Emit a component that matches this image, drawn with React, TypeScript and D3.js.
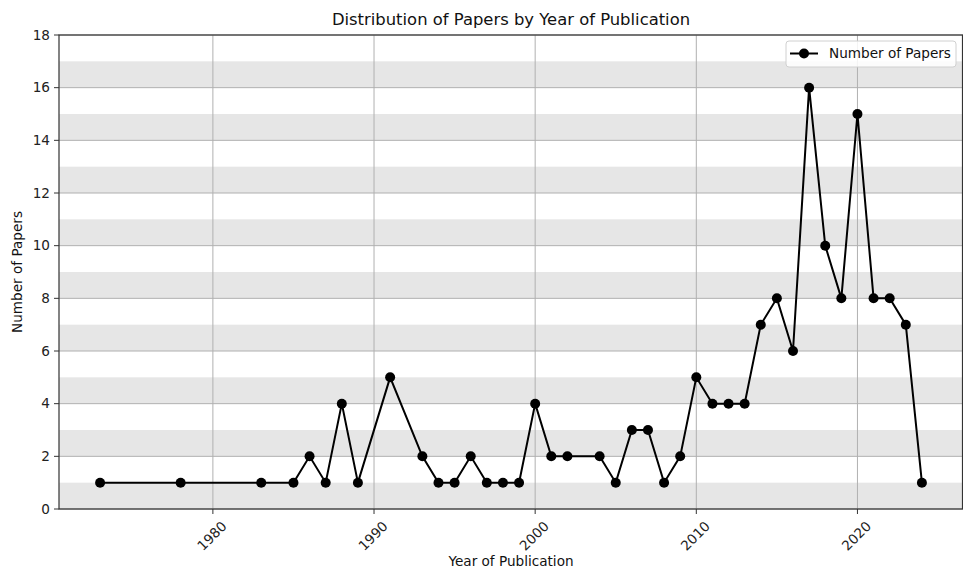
import React from "react";
import * as d3 from "d3";

const years = [1973, 1978, 1983, 1985, 1986, 1987, 1988, 1989, 1991, 1993, 1994, 1995, 1996, 1997, 1998, 1999, 2000, 2001, 2002, 2004, 2005, 2006, 2007, 2008, 2009, 2010, 2011, 2012, 2013, 2014, 2015, 2016, 2017, 2018, 2019, 2020, 2021, 2022, 2023, 2024];
const papers = [1, 1, 1, 1, 2, 1, 4, 1, 5, 2, 1, 1, 2, 1, 1, 1, 4, 2, 2, 2, 1, 3, 3, 1, 2, 5, 4, 4, 4, 7, 8, 6, 16, 10, 8, 15, 8, 8, 7, 1];
const xTicks = [1980, 1990, 2000, 2010, 2020];
const yTicks = [0, 2, 4, 6, 8, 10, 12, 14, 16, 18];
const bandStarts = [0, 2, 4, 6, 8, 10, 12, 14, 16];

const W = 963, H = 571;
const L = 59, R = 963, T = 35, B = 509;
const font = "DejaVu Sans, sans-serif";

export default function App() {
  const x = d3.scaleLinear().domain([1970.45, 2026.55]).range([L, R]);
  const y = d3.scaleLinear().domain([0, 18]).range([B, T]);
  const data = years.map((yr, i) => ({ yr, v: papers[i] }));
  const line = d3.line<{ yr: number; v: number }>().x(d => x(d.yr)).y(d => y(d.v));
  return (
    <svg width={W} height={H} style={{ position: "absolute", left: 0, top: 0, background: "#fff" }} fontFamily={font}>
      <rect x={0} y={0} width={W} height={H} fill="#fff" />
      {bandStarts.map(s => (
        <rect key={s} x={L} width={R - L} y={y(s + 1)} height={y(s) - y(s + 1)} fill="#e6e6e6" />
      ))}
      {xTicks.map(t => (
        <line key={t} x1={x(t)} x2={x(t)} y1={T} y2={B} stroke="#b0b0b0" strokeWidth={1} />
      ))}
      {yTicks.map(t => (
        <line key={t} x1={L} x2={R} y1={y(t)} y2={y(t)} stroke="#b0b0b0" strokeWidth={1} />
      ))}
      <path d={line(data) || ""} fill="none" stroke="#000" strokeWidth={2} />
      {data.map(d => (
        <circle key={d.yr} cx={x(d.yr)} cy={y(d.v)} r={5} fill="#000" />
      ))}
      <rect x={L} y={T} width={R - L - 0.5} height={B - T} fill="none" stroke="#333" strokeWidth={1.2} />
      {yTicks.map(t => (
        <g key={t}>
          <line x1={L - 5} x2={L} y1={y(t)} y2={y(t)} stroke="#333" />
          <text x={L - 9} y={y(t)} dy="0.35em" textAnchor="end" fontSize={13.6} fill="#222">{t}</text>
        </g>
      ))}
      {xTicks.map(t => (
        <g key={t}>
          <line x1={x(t)} x2={x(t)} y1={B} y2={B + 5} stroke="#333" />
          <text transform={`translate(${x(t) - 1},${B + 27}) rotate(-45)`} textAnchor="middle" dy="0.35em" fontSize={13.6} fill="#222">{t}</text>
        </g>
      ))}
      <text x={(L + R) / 2} y={25} textAnchor="middle" fontSize={16.4} fill="#111">Distribution of Papers by Year of Publication</text>
      <text x={(L + R) / 2} y={566} textAnchor="middle" fontSize={13.6} fill="#111">Year of Publication</text>
      <text transform={`translate(22,${(T + B) / 2}) rotate(-90)`} textAnchor="middle" fontSize={13.6} fill="#111">Number of Papers</text>
      <g>
        <rect x={786} y={41} width={170} height={26} rx={3} fill="#fff" fillOpacity={0.85} stroke="#d0d0d0" />
        <line x1={790} x2={818} y1={53.5} y2={53.5} stroke="#000" strokeWidth={2} />
        <circle cx={804} cy={53.5} r={5} fill="#000" />
        <text x={829} y={53.5} dy="0.35em" fontSize={13.6} fill="#111">Number of Papers</text>
      </g>
    </svg>
  );
}
